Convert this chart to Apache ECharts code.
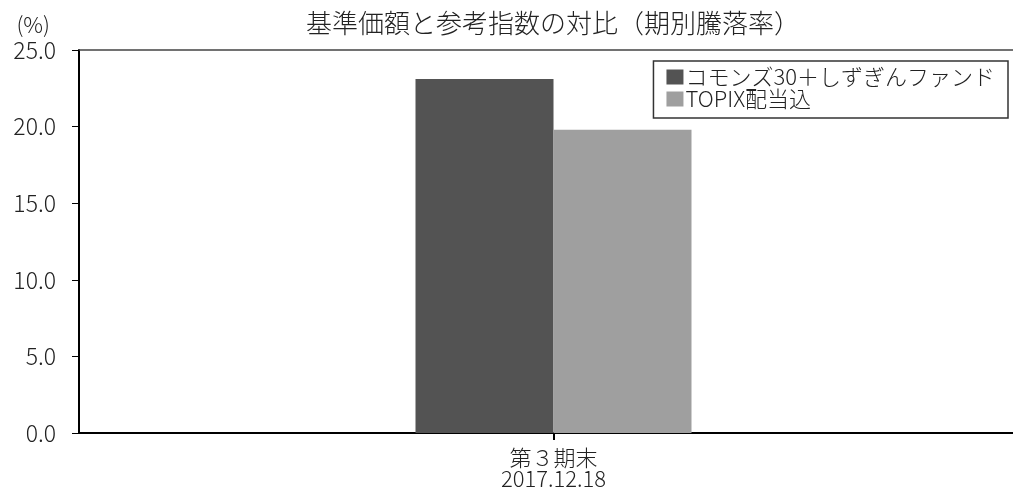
<!DOCTYPE html>
<html><head><meta charset="utf-8">
<script src="https://cdn.jsdelivr.net/npm/echarts@6/dist/echarts.min.js"></script>
<style>html,body{margin:0;padding:0;background:#fff}#c{width:1013px;height:489px}</style>
</head><body><div id="c"></div>
<script>
const categories = ['第３期末\n2017.12.18'];
const fundValues = [23.1];
const topixValues = [19.8];
const seriesNames = ['コモンズ30＋しずぎんファンド', 'TOPIX配当込'];
const yTicks = [0, 5, 10, 15, 20, 25];

const FONT = '"Noto Sans CJK JP", "Noto Sans", sans-serif';
const W = 300;
const chart = echarts.init(document.getElementById('c'));
chart.setOption({
  backgroundColor: '#fff',
  animation: false,
  textStyle: { fontFamily: FONT, fontWeight: W },
  title: {
    text: '基準価額と参考指数の対比（期別騰落率）',
    left: 301, top: 5,
    textStyle: { fontFamily: FONT, fontSize: 26, fontWeight: W, color: '#222' }
  },
  legend: {
    orient: 'vertical', right: 5, top: 61,
    itemWidth: 17, itemHeight: 15, itemGap: 0,
    borderColor: '#333', borderWidth: 1.5, padding: [5, 13, 8, 13],
    textStyle: { fontFamily: FONT, fontSize: 22, fontWeight: W, color: '#222', lineHeight: 20, padding: [0, 0, 0, -3] },
    data: seriesNames.map(n => ({ name: n, icon: 'rect' }))
  },
  grid: { left: 79, width: 949, top: 50, bottom: 56, outerBoundsMode: 'none', containLabel: false },
  xAxis: [{
    type: 'category', data: categories,
    axisLine: { lineStyle: { color: '#000', width: 2 } },
    axisTick: { show: true, alignWithLabel: true, length: 7, lineStyle: { color: '#000', width: 2 } },
    axisLabel: { fontFamily: FONT, fontSize: 22, fontWeight: W, color: '#222', lineHeight: 21, margin: 14 }
  }, {
    type: 'category', data: categories, position: 'top',
    axisLine: { show: true, lineStyle: { color: '#444', width: 1.5 } },
    axisTick: { show: false }, axisLabel: { show: false }
  }],
  yAxis: {
    type: 'value', min: yTicks[0], max: yTicks[yTicks.length - 1], interval: 5,
    name: '(%)', nameLocation: 'end', nameGap: 14,
    nameTextStyle: { fontFamily: FONT, fontSize: 22, fontWeight: W, color: '#222', align: 'right', padding: [0, 29, 0, 0] },
    axisLine: { show: true, lineStyle: { color: '#000', width: 2 } },
    axisTick: { show: true, length: 7, lineStyle: { color: '#000', width: 1 } },
    splitLine: { show: false },
    axisLabel: { fontFamily: FONT, fontSize: 23, fontWeight: W, color: '#222', margin: 23, formatter: v => v.toFixed(1) }
  },
  series: [
    { name: seriesNames[0], type: 'bar', data: fundValues, barWidth: 138, barGap: '0%', itemStyle: { color: '#535353' } },
    { name: seriesNames[1], type: 'bar', data: topixValues, barWidth: 138, barGap: '0%', itemStyle: { color: '#9f9f9f' } }
  ]
});
</script></body></html>
